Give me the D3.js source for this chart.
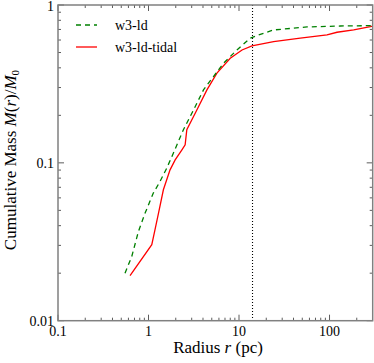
<!DOCTYPE html>
<html><head><meta charset="utf-8">
<script src="https://cdn.jsdelivr.net/npm/d3@7"></script>
<style>body{margin:0;background:#fff}svg{display:block}</style>
</head><body>
<svg id="c" width="374" height="363"></svg>
<script>
const seriesNames = ["w3-ld", "w3-ld-tidal"];
const ldR =   [0.55, 0.653, 0.773, 0.917, 1.13, 1.34, 1.59, 1.88, 2.43, 3.14, 4.05, 5.22, 6.74, 9.48, 13.3, 16.4, 24.1, 56.4, 132, 300];
const ldM =   [0.020, 0.0255, 0.0367, 0.0481, 0.0643, 0.0762, 0.0925, 0.115, 0.162, 0.216, 0.290, 0.352, 0.428, 0.519, 0.616, 0.646, 0.695, 0.726, 0.736, 0.740];
const tidR =  [0.625, 1.087, 1.18, 1.29, 1.46, 1.73, 1.97, 2.34, 2.54, 2.65, 3.42, 4.42, 5.70, 8.0, 10.8, 13.9, 24.1, 47.5, 93.8, 121, 185, 283, 300];
const tidM =  [0.0193, 0.0303, 0.0377, 0.0481, 0.0675, 0.0903, 0.1045, 0.121, 0.130, 0.162, 0.216, 0.290, 0.370, 0.460, 0.519, 0.550, 0.586, 0.616, 0.646, 0.672, 0.695, 0.729, 0.735];
const xTickVals = [0.1, 1, 10, 100];
const xTickLabels = ["0.1", "1", "10", "100"];
const yTickVals = [0.01, 0.1, 1];
const yTickLabels = ["0.01", "0.1", "1"];
const tidalRadius = [14.1];

const svg = d3.select("#c");
const L = 58, T = 5, R = 372.7, B = 320.7;
const x = d3.scaleLog().domain([0.1, 300]).range([L, R]);
const y = d3.scaleLog().domain([0.01, 1]).range([B, T]);
const font = "'Liberation Serif', 'DejaVu Serif', serif";

// minor ticks
const xMinor = [];
for (let d = 0.1; d < 300; d *= 10) for (let k = 2; k <= 9; k++) { const v = d * k; if (v < 300) xMinor.push(v); }
const yMinor = [];
for (let d = 0.01; d < 1; d *= 10) for (let k = 2; k <= 9; k++) yMinor.push(d * k);

const g = svg.append("g");
const tick = (x1, y1, x2, y2) => g.append("line").attr("x1", x1).attr("y1", y1).attr("x2", x2).attr("y2", y2).attr("stroke", "#333").attr("stroke-width", 0.8);
xMinor.forEach(v => { tick(x(v), B, x(v), B - 3); tick(x(v), T, x(v), T + 3); });
xTickVals.forEach(v => { tick(x(v), B, x(v), B - 6); tick(x(v), T, x(v), T + 6); });
yMinor.forEach(v => { tick(L, y(v), L + 3, y(v)); tick(R, y(v), R - 3, y(v)); });
yTickVals.forEach(v => { tick(L, y(v), L + 6, y(v)); tick(R, y(v), R - 6, y(v)); });

// tidal radius
svg.append("line").attr("x1", x(tidalRadius[0])).attr("x2", x(tidalRadius[0]))
  .attr("y1", T).attr("y2", B).attr("stroke", "#000").attr("stroke-width", 1.1).attr("stroke-dasharray", "1,2");

const line = d3.line().x(d => x(d[0])).y(d => y(d[1]));
svg.append("path").datum(tidR.map((r, i) => [r, tidM[i]])).attr("d", line)
  .attr("fill", "none").attr("stroke", "#ff0000").attr("stroke-width", 1.3);
svg.append("path").datum(ldR.map((r, i) => [r, ldM[i]])).attr("d", line)
  .attr("fill", "none").attr("stroke", "#008000").attr("stroke-width", 1.3).attr("stroke-dasharray", "5,4");

// frame
svg.append("rect").attr("x", L).attr("y", T).attr("width", R - L).attr("height", B - T)
  .attr("fill", "none").attr("stroke", "#808080").attr("stroke-width", 1.5);

// tick labels
xTickVals.forEach((v, i) => svg.append("text").attr("x", x(v)).attr("y", B + 15).attr("text-anchor", "middle")
  .attr("font-family", font).attr("font-size", 14).text(xTickLabels[i]));
yTickVals.forEach((v, i) => svg.append("text").attr("x", L - 4).attr("y", Math.max(y(v) + 5, 11)).attr("text-anchor", "end")
  .attr("font-family", font).attr("font-size", 14).text(yTickLabels[i]));

// axis labels
const xl = svg.append("text").attr("x", 218).attr("y", 353).attr("text-anchor", "middle")
  .attr("font-family", font).attr("font-size", 17);
xl.append("tspan").text("Radius ");
xl.append("tspan").attr("font-style", "italic").text("r");
xl.append("tspan").text(" (pc)");

const yl = svg.append("text").attr("transform", `translate(16,160) rotate(-90)`).attr("text-anchor", "middle")
  .attr("font-family", font).attr("font-size", 17);
yl.append("tspan").text("Cumulative Mass ");
yl.append("tspan").attr("font-style", "italic").text("M");
yl.append("tspan").text("(");
yl.append("tspan").attr("font-style", "italic").text("r");
yl.append("tspan").text(")/");
yl.append("tspan").attr("font-style", "italic").text("M");
yl.append("tspan").attr("font-size", 11).attr("dy", 3).text("0");

// legend
const leg = [{c: "#008000", d: "5,4", t: seriesNames[0], yy: 25}, {c: "#ff0000", d: null, t: seriesNames[1], yy: 47}];
leg.forEach(e => {
  svg.append("line").attr("x1", 76).attr("x2", 97).attr("y1", e.yy).attr("y2", e.yy)
    .attr("stroke", e.c).attr("stroke-width", 1.3).attr("stroke-dasharray", e.d);
  svg.append("text").attr("x", 115).attr("y", e.yy + 5).attr("font-family", font).attr("font-size", 14).text(e.t);
});
</script>
</body></html>
